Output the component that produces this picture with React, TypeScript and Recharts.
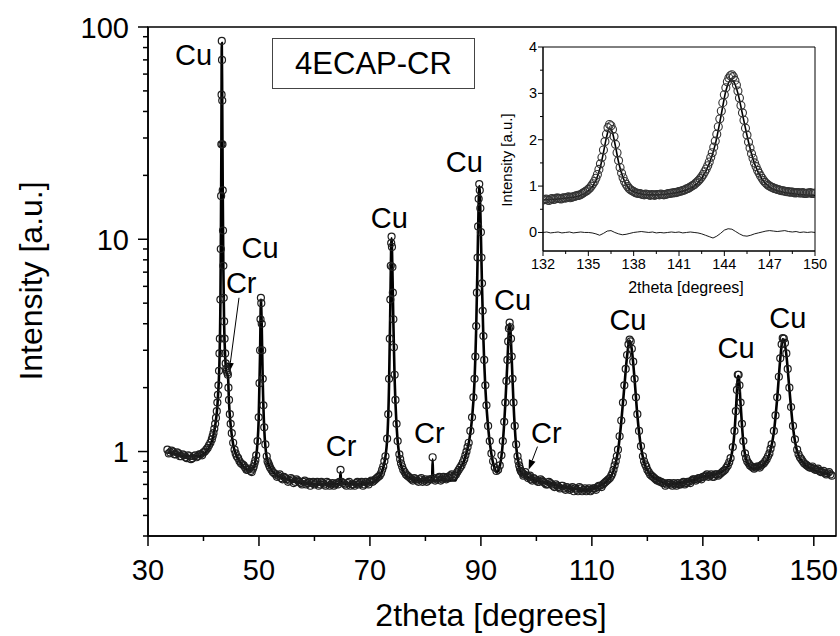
import React from 'react';
import { ComposedChart, Line, XAxis, YAxis, ReferenceArea, ReferenceDot, ReferenceLine } from 'recharts';

const FONT = '"Liberation Sans", Arial, sans-serif';

// measured pattern, [2theta, intensity]
const observedMain: [number, number][] = [
  [33.5, 1.02], [34.0, 0.99], [34.5, 1.0], [35.0, 0.97], [35.5, 0.98], [36.0, 0.95], [36.5, 0.96], [37.0, 0.93],
  [37.5, 0.95], [38.0, 0.93], [38.5, 0.96], [39.0, 0.95], [39.5, 0.97], [40.0, 0.99], [40.5, 1.02], [41.0, 1.07],
  [41.5, 1.14], [41.8, 1.22], [42.1, 1.35], [42.4, 1.55], [42.6, 1.85], [42.8, 2.4], [42.95, 3.4], [43.05, 5.2],
  [43.12, 9], [43.18, 16], [43.22, 28], [43.26, 48], [43.3, 86], [43.34, 70], [43.38, 45], [43.42, 28],
  [43.47, 17], [43.52, 11], [43.58, 7.5], [43.65, 5.3], [43.72, 4.1], [43.8, 3.4], [43.9, 2.9], [44.0, 2.6],
  [44.1, 2.45], [44.2, 2.4], [44.3, 2.35], [44.4, 2.3], [44.5, 2.0], [44.6, 1.75], [44.75, 1.5], [44.9, 1.35],
  [45.1, 1.22], [45.35, 1.1], [45.6, 1.02], [46.0, 0.95], [46.5, 0.9], [47.0, 0.87], [47.5, 0.84], [48.0, 0.82],
  [48.5, 0.81], [48.9, 0.83], [49.2, 0.88], [49.5, 0.96], [49.75, 1.12], [49.95, 1.45], [50.1, 2.1], [50.2, 3.0],
  [50.28, 4.2], [50.35, 5.3], [50.42, 5.0], [50.5, 4.0], [50.58, 3.0], [50.68, 2.2], [50.8, 1.65], [50.95, 1.3],
  [51.15, 1.08], [51.4, 0.95], [51.7, 0.88], [52.0, 0.84], [52.5, 0.8], [53.0, 0.78], [53.5, 0.77], [54.0, 0.75],
  [54.5, 0.76], [55.0, 0.74], [55.5, 0.73], [56.0, 0.74], [56.5, 0.72], [57.0, 0.73], [57.5, 0.71], [58.0, 0.72],
  [58.5, 0.7], [59.0, 0.72], [59.5, 0.71], [60.0, 0.7], [60.5, 0.72], [61.0, 0.7], [61.5, 0.71], [62.0, 0.69],
  [62.5, 0.71], [63.0, 0.7], [63.5, 0.69], [64.0, 0.71], [64.5, 0.72], [64.7, 0.82], [64.9, 0.72], [65.5, 0.7],
  [66.0, 0.71], [66.5, 0.69], [67.0, 0.7], [67.5, 0.71], [68.0, 0.7], [68.5, 0.72], [69.0, 0.7], [69.5, 0.71],
  [70.0, 0.72], [70.5, 0.72], [71.0, 0.74], [71.5, 0.76], [72.0, 0.79], [72.4, 0.85], [72.8, 0.95], [73.1, 1.15],
  [73.3, 1.5], [73.45, 2.2], [73.58, 3.4], [73.68, 5.2], [73.76, 7.5], [73.83, 9.6], [73.9, 10.3], [73.97, 9.2],
  [74.05, 7.4], [74.13, 5.6], [74.22, 4.2], [74.32, 3.1], [74.45, 2.3], [74.6, 1.75], [74.8, 1.35], [75.0, 1.12],
  [75.3, 0.97], [75.6, 0.88], [76.0, 0.82], [76.5, 0.78], [77.0, 0.76], [77.5, 0.74], [78.0, 0.75], [78.5, 0.73],
  [79.0, 0.74], [79.5, 0.72], [80.0, 0.74], [80.5, 0.73], [81.0, 0.74], [81.3, 0.94], [81.5, 0.75], [82.0, 0.74],
  [82.5, 0.76], [83.0, 0.74], [83.5, 0.75], [84.0, 0.76], [84.5, 0.77], [85.0, 0.76], [85.5, 0.78], [86.0, 0.82],
  [86.5, 0.86], [87.0, 0.92], [87.4, 1.0], [87.8, 1.1], [88.1, 1.25], [88.4, 1.45], [88.65, 1.8], [88.85, 2.2],
  [89.0, 2.8], [89.15, 3.9], [89.28, 5.6], [89.4, 8.2], [89.5, 11.5], [89.6, 15.5], [89.7, 18.2], [89.8, 17.0],
  [89.9, 14.0], [90.0, 10.8], [90.1, 8.2], [90.2, 6.2], [90.32, 4.6], [90.45, 3.5], [90.6, 2.7], [90.8, 2.05],
  [91.0, 1.65], [91.3, 1.32], [91.6, 1.12], [91.9, 0.98], [92.2, 0.9], [92.5, 0.84], [92.8, 0.81], [93.1, 0.82],
  [93.4, 0.86], [93.7, 0.96], [93.95, 1.12], [94.2, 1.38], [94.4, 1.7], [94.6, 2.15], [94.78, 2.7], [94.92, 3.3],
  [95.05, 3.8], [95.18, 4.05], [95.3, 3.85], [95.42, 3.4], [95.55, 2.8], [95.7, 2.2], [95.88, 1.7], [96.1, 1.32],
  [96.35, 1.08], [96.6, 0.95], [96.9, 0.86], [97.2, 0.81], [97.5, 0.79], [97.8, 0.78], [98.0, 0.8], [98.3, 0.77],
  [98.7, 0.76], [99.0, 0.74], [99.5, 0.75], [100.0, 0.73], [100.5, 0.72], [101.0, 0.73], [101.5, 0.71], [102.0, 0.7],
  [102.5, 0.71], [103.0, 0.69], [103.5, 0.7], [104.0, 0.68], [104.5, 0.69], [105.0, 0.67], [105.5, 0.68], [106.0, 0.66],
  [106.5, 0.68], [107.0, 0.67], [107.5, 0.65], [108.0, 0.67], [108.5, 0.66], [109.0, 0.65], [109.5, 0.67], [110.0, 0.66],
  [110.5, 0.67], [111.0, 0.68], [111.5, 0.69], [112.0, 0.7], [112.5, 0.72], [113.0, 0.74], [113.5, 0.77], [113.9, 0.82],
  [114.3, 0.9], [114.7, 1.02], [115.0, 1.18], [115.3, 1.4], [115.6, 1.7], [115.85, 2.05], [116.1, 2.45], [116.35, 2.85],
  [116.6, 3.2], [116.8, 3.37], [117.0, 3.3], [117.2, 3.05], [117.45, 2.65], [117.7, 2.2], [117.95, 1.8], [118.2, 1.5],
  [118.5, 1.25], [118.85, 1.06], [119.2, 0.95], [119.6, 0.87], [120.0, 0.82], [120.5, 0.78], [121.0, 0.76], [121.5, 0.74],
  [122.0, 0.73], [122.5, 0.72], [123.0, 0.71], [123.5, 0.7], [124.0, 0.71], [124.5, 0.69], [125.0, 0.7], [125.5, 0.71],
  [126.0, 0.7], [126.5, 0.72], [127.0, 0.71], [127.5, 0.72], [128.0, 0.73], [128.5, 0.74], [129.0, 0.74], [129.5, 0.75],
  [130.0, 0.76], [130.5, 0.77], [131.0, 0.76], [131.5, 0.78], [132.0, 0.76], [132.5, 0.78], [133.0, 0.78], [133.5, 0.8],
  [134.0, 0.82], [134.5, 0.86], [135.0, 0.93], [135.4, 1.05], [135.7, 1.25], [135.95, 1.55], [136.15, 1.95], [136.3, 2.3],
  [136.45, 2.3], [136.6, 2.05], [136.8, 1.7], [137.05, 1.35], [137.3, 1.12], [137.6, 0.98], [138.0, 0.9], [138.5, 0.86],
  [139.0, 0.84], [139.5, 0.84], [140.0, 0.85], [140.5, 0.86], [141.0, 0.88], [141.5, 0.92], [142.0, 0.98], [142.4, 1.08],
  [142.8, 1.25], [143.1, 1.48], [143.4, 1.8], [143.7, 2.25], [143.95, 2.75], [144.2, 3.2], [144.4, 3.42], [144.6, 3.4],
  [144.8, 3.25], [145.05, 2.9], [145.3, 2.45], [145.6, 2.0], [145.9, 1.62], [146.25, 1.32], [146.6, 1.14], [147.0, 1.02],
  [147.5, 0.94], [148.0, 0.9], [148.5, 0.87], [149.0, 0.85], [149.5, 0.84], [150.0, 0.83], [150.5, 0.82], [151.0, 0.81],
  [151.5, 0.8], [152.0, 0.79], [152.5, 0.79], [153.0, 0.78],
];

// the in-between steps of the same scan
const observedMainB: [number, number][] = [
  [33.75, 0.98], [34.25, 1.01], [34.75, 0.97], [35.25, 0.99], [35.75, 0.95], [36.25, 0.97], [36.75, 0.94], [37.25, 0.96],
  [37.75, 0.92], [38.25, 0.95], [38.75, 0.94], [39.25, 0.97], [39.75, 0.96], [40.25, 1.0], [40.75, 1.04], [41.25, 1.1],
  [41.65, 1.18], [41.95, 1.28], [42.25, 1.44], [42.5, 1.7], [42.7, 2.05], [42.88, 2.9],
  [45.8, 0.98], [46.25, 0.93], [46.75, 0.88], [47.25, 0.86], [47.75, 0.82], [48.25, 0.83], [48.7, 0.8], [49.05, 0.85],
  [49.35, 0.91],
  [51.55, 0.9], [51.85, 0.86], [52.25, 0.82], [52.75, 0.79], [53.25, 0.76], [53.75, 0.78], [54.25, 0.74], [54.75, 0.75],
  [55.25, 0.72], [55.75, 0.75], [56.25, 0.71], [56.75, 0.74], [57.25, 0.72], [57.75, 0.7], [58.25, 0.73], [58.75, 0.71],
  [59.25, 0.69], [59.75, 0.72], [60.25, 0.71], [60.75, 0.69], [61.25, 0.72], [61.75, 0.7], [62.25, 0.72], [62.75, 0.69],
  [63.25, 0.71], [63.75, 0.7], [64.25, 0.7], [65.2, 0.71], [65.75, 0.69], [66.25, 0.72], [66.75, 0.7], [67.25, 0.69],
  [67.75, 0.72], [68.25, 0.71], [68.75, 0.69], [69.25, 0.72], [69.75, 0.7], [70.25, 0.73], [70.75, 0.73], [71.25, 0.75],
  [71.75, 0.77], [72.2, 0.82], [72.6, 0.9],
  [75.45, 0.92], [75.8, 0.85], [76.25, 0.8], [76.75, 0.77], [77.25, 0.75], [77.75, 0.73], [78.25, 0.74], [78.75, 0.72],
  [79.25, 0.75], [79.75, 0.73], [80.25, 0.72], [80.75, 0.74], [81.75, 0.73], [82.25, 0.75], [82.75, 0.73], [83.25, 0.76],
  [83.75, 0.74], [84.25, 0.75], [84.75, 0.78], [85.25, 0.77], [85.75, 0.8], [86.25, 0.84], [86.75, 0.89], [87.2, 0.96],
  [87.6, 1.05],
  [96.75, 0.9], [97.05, 0.83], [97.35, 0.8], [97.65, 0.77], [98.5, 0.75], [98.85, 0.77], [99.25, 0.73], [99.75, 0.74],
  [100.25, 0.72], [100.75, 0.74], [101.25, 0.72], [101.75, 0.7], [102.25, 0.72], [102.75, 0.7], [103.25, 0.68], [103.75, 0.69],
  [104.25, 0.67], [104.75, 0.69], [105.25, 0.66], [105.75, 0.67], [106.25, 0.67], [106.75, 0.65], [107.25, 0.66], [107.75, 0.68],
  [108.25, 0.65], [108.75, 0.67], [109.25, 0.66], [109.75, 0.65], [110.25, 0.67], [110.75, 0.66], [111.25, 0.69], [111.75, 0.68],
  [112.25, 0.71], [112.75, 0.73], [113.25, 0.75], [113.7, 0.79], [114.1, 0.86], [114.5, 0.95],
  [119.4, 0.9], [119.8, 0.85], [120.25, 0.8], [120.75, 0.77], [121.25, 0.75], [121.75, 0.73], [122.25, 0.72], [122.75, 0.71],
  [123.25, 0.69], [123.75, 0.71], [124.25, 0.7], [124.75, 0.71], [125.25, 0.69], [125.75, 0.7], [126.25, 0.71], [126.75, 0.7],
  [127.25, 0.72], [127.75, 0.71], [128.25, 0.74], [128.75, 0.73], [129.25, 0.75], [129.75, 0.74], [130.25, 0.76], [130.75, 0.78],
  [131.25, 0.77], [131.75, 0.76], [132.25, 0.78], [132.75, 0.77], [133.25, 0.79], [133.75, 0.81], [134.25, 0.84], [134.75, 0.89],
  [137.8, 0.93], [138.25, 0.88], [138.75, 0.85], [139.25, 0.83], [139.75, 0.85], [140.25, 0.84], [140.75, 0.87], [141.25, 0.9],
  [141.75, 0.95], [142.2, 1.03],
  [147.25, 0.97], [147.75, 0.92], [148.25, 0.88], [148.75, 0.86], [149.25, 0.84], [149.75, 0.85], [150.25, 0.82], [150.75, 0.83],
  [151.25, 0.8], [151.75, 0.81], [152.25, 0.78], [152.75, 0.8], [153.25, 0.77],
];

// refined profile
const fittedMain: [number, number][] = [
  [33.5, 0.99], [35, 0.97], [37, 0.95], [39, 0.95], [40.5, 1.0], [41.5, 1.12], [42.1, 1.32], [42.6, 1.8],
  [42.9, 2.8], [43.05, 5], [43.15, 12], [43.22, 26], [43.3, 84], [43.38, 44], [43.47, 17], [43.58, 7.4],
  [43.72, 4.0], [43.9, 2.85], [44.1, 2.4], [44.3, 2.3], [44.42, 2.25], [44.6, 1.7], [44.9, 1.33], [45.35, 1.08],
  [46, 0.95], [47, 0.86], [48, 0.82], [48.9, 0.83], [49.5, 0.95], [49.95, 1.42], [50.2, 2.9], [50.35, 5.2],
  [50.5, 3.9], [50.68, 2.15], [50.95, 1.28], [51.4, 0.94], [52, 0.84], [53, 0.78], [55, 0.74], [58, 0.71],
  [61, 0.7], [64, 0.7], [64.6, 0.71], [64.7, 0.8], [64.8, 0.71], [67, 0.7], [70, 0.71], [71.5, 0.75],
  [72.4, 0.84], [73.1, 1.13], [73.45, 2.1], [73.68, 5.0], [73.83, 9.4], [73.9, 10.1], [74.05, 7.2], [74.22, 4.1],
  [74.45, 2.2], [74.8, 1.32], [75.3, 0.95], [76, 0.81], [77, 0.75], [79, 0.73], [81.2, 0.73], [81.3, 0.92],
  [81.4, 0.73], [85.4, 0.73], [86, 0.81], [87, 0.91], [87.8, 1.09], [88.4, 1.43], [88.85, 2.15], [89.15, 3.8],
  [89.4, 8.0], [89.6, 15.2], [89.7, 17.8], [89.8, 16.6], [90.0, 10.5], [90.2, 6.0], [90.45, 3.4], [90.8, 2.0],
  [91.3, 1.3], [91.9, 0.97], [92.5, 0.83], [92.8, 0.8], [93.1, 0.81], [93.4, 0.85], [93.95, 1.1], [94.4, 1.68],
  [94.78, 2.65], [95.05, 3.75], [95.18, 4.0], [95.3, 3.8], [95.55, 2.75], [95.88, 1.68], [96.35, 1.06], [96.9, 0.85],
  [97.5, 0.78], [97.9, 0.77], [98.0, 0.79], [98.1, 0.77], [100, 0.73], [103, 0.7], [106, 0.67], [109, 0.66],
  [111, 0.68], [113, 0.74], [113.9, 0.81], [114.7, 1.0], [115.3, 1.38], [115.85, 2.02], [116.35, 2.82], [116.8, 3.33],
  [117.2, 3.02], [117.7, 2.18], [118.2, 1.48], [118.85, 1.05], [119.6, 0.86], [120.5, 0.78], [122, 0.73], [124, 0.7],
  [126, 0.71], [128, 0.73], [130, 0.76], [132, 0.78], [134, 0.82], [135, 0.92], [135.7, 1.23], [136.15, 1.92],
  [136.3, 2.27], [136.45, 2.27], [136.8, 1.68], [137.3, 1.1], [138, 0.89], [139, 0.83], [140, 0.84], [141, 0.87],
  [142, 0.97], [142.8, 1.23], [143.4, 1.78], [143.95, 2.72], [144.4, 3.38], [144.6, 3.36], [145.05, 2.86], [145.6, 1.97],
  [146.25, 1.3], [147, 1.0], [148, 0.89], [149.5, 0.83], [151, 0.8], [153, 0.78],
];

const observedInset: [number, number][] = [
  [132.0, 0.7], [132.2, 0.72], [132.4, 0.69], [132.6, 0.73], [132.8, 0.72], [133.0, 0.74], [133.2, 0.72], [133.4, 0.75],
  [133.6, 0.76], [133.8, 0.75], [134.0, 0.77], [134.2, 0.79], [134.4, 0.8], [134.6, 0.84], [134.8, 0.88], [135.0, 0.93],
  [135.2, 1.0], [135.4, 1.1], [135.6, 1.25], [135.8, 1.48], [136.0, 1.78], [136.2, 2.12], [136.4, 2.33], [136.6, 2.22],
  [136.8, 1.9], [137.0, 1.55], [137.2, 1.28], [137.4, 1.1], [137.6, 0.99], [137.8, 0.92], [138.0, 0.88], [138.2, 0.85],
  [138.4, 0.84], [138.6, 0.82], [138.8, 0.83], [139.0, 0.81], [139.2, 0.82], [139.4, 0.8], [139.6, 0.82], [139.8, 0.83],
  [140.0, 0.81], [140.2, 0.83], [140.4, 0.84], [140.6, 0.85], [140.8, 0.86], [141.0, 0.88], [141.2, 0.9], [141.4, 0.92],
  [141.6, 0.95], [141.8, 0.99], [142.0, 1.03], [142.2, 1.09], [142.4, 1.16], [142.6, 1.25], [142.8, 1.37], [143.0, 1.52],
  [143.2, 1.72], [143.4, 1.97], [143.6, 2.28], [143.8, 2.62], [144.0, 2.97], [144.2, 3.25], [144.4, 3.38], [144.6, 3.36],
  [144.8, 3.18], [145.0, 2.9], [145.2, 2.58], [145.4, 2.25], [145.6, 1.95], [145.8, 1.7], [146.0, 1.5], [146.2, 1.34],
  [146.4, 1.22], [146.6, 1.12], [146.8, 1.05], [147.0, 1.0], [147.2, 0.97], [147.4, 0.94], [147.6, 0.92], [147.8, 0.9],
  [148.0, 0.89], [148.2, 0.88], [148.4, 0.87], [148.6, 0.86], [148.8, 0.86], [149.0, 0.85], [149.2, 0.86], [149.4, 0.84],
  [149.6, 0.85], [149.8, 0.84], [150.0, 0.85],
];

const observedInsetB: [number, number][] = [
  [132.1, 0.71], [132.3, 0.7], [132.5, 0.72], [132.7, 0.71], [132.9, 0.74], [133.1, 0.73], [133.3, 0.74], [133.5, 0.74],
  [133.7, 0.77], [133.9, 0.76], [134.1, 0.78], [134.3, 0.8], [134.5, 0.82], [134.7, 0.86], [134.9, 0.9], [135.1, 0.96],
  [135.3, 1.05], [135.5, 1.17], [135.7, 1.36], [135.9, 1.62], [136.1, 1.96], [136.3, 2.26], [136.5, 2.3], [136.7, 2.07],
  [136.9, 1.72], [137.1, 1.4], [137.3, 1.18], [137.5, 1.04], [137.7, 0.95], [137.9, 0.9], [138.1, 0.86], [138.3, 0.84],
  [138.5, 0.83], [138.7, 0.81], [138.9, 0.82], [139.1, 0.8], [139.3, 0.81], [139.5, 0.82], [139.7, 0.81], [139.9, 0.82],
  [140.1, 0.82], [140.3, 0.84], [140.5, 0.85], [140.7, 0.86], [140.9, 0.87], [141.1, 0.89], [141.3, 0.91], [141.5, 0.94],
  [141.7, 0.97], [141.9, 1.01], [142.1, 1.06], [142.3, 1.12], [142.5, 1.2], [142.7, 1.31], [142.9, 1.44], [143.1, 1.62],
  [143.3, 1.84], [143.5, 2.12], [143.7, 2.45], [143.9, 2.8], [144.1, 3.12], [144.3, 3.33], [144.5, 3.4], [144.7, 3.28],
  [144.9, 3.05], [145.1, 2.74], [145.3, 2.42], [145.5, 2.1], [145.7, 1.82], [145.9, 1.6], [146.1, 1.42], [146.3, 1.28],
  [146.5, 1.17], [146.7, 1.08], [146.9, 1.02], [147.1, 0.98], [147.3, 0.95], [147.5, 0.93], [147.7, 0.91], [147.9, 0.9],
  [148.1, 0.88], [148.3, 0.87], [148.5, 0.87], [148.7, 0.85], [148.9, 0.86], [149.1, 0.85], [149.3, 0.84], [149.5, 0.85],
  [149.7, 0.86], [149.9, 0.84],
];

const fittedInset: [number, number][] = [
  [132, 0.7], [132.5, 0.71], [133, 0.72], [133.5, 0.74], [134, 0.76], [134.5, 0.8], [135, 0.9], [135.5, 1.12],
  [135.8, 1.42], [136.0, 1.72], [136.2, 2.05], [136.4, 2.25], [136.6, 2.15], [136.8, 1.85], [137.0, 1.52], [137.3, 1.18],
  [137.6, 0.98], [138, 0.88], [138.5, 0.83], [139, 0.81], [139.5, 0.81], [140, 0.82], [140.5, 0.84], [141, 0.87],
  [141.5, 0.92], [142, 1.0], [142.5, 1.17], [143, 1.48], [143.4, 1.9], [143.8, 2.55], [144.1, 3.05], [144.4, 3.28],
  [144.6, 3.26], [144.9, 3.0], [145.2, 2.55], [145.6, 1.95], [146, 1.48], [146.5, 1.15], [147, 0.98], [147.5, 0.9],
  [148, 0.86], [149, 0.82], [150, 0.8],
];

const differenceInset: [number, number][] = [
  [132.0, 0.0], [132.25, 0.01], [132.5, -0.01], [132.75, 0.0], [133.0, 0.01], [133.25, -0.01], [133.5, 0.0], [133.75, 0.01],
  [134.0, -0.01], [134.25, 0.0], [134.5, 0.01], [134.75, 0.0], [135.0, 0.0], [135.25, -0.01], [135.5, -0.03], [135.75, -0.06],
  [136.0, -0.02], [136.25, 0.03], [136.5, 0.04], [136.75, 0.0], [137.0, -0.03], [137.25, -0.05], [137.5, -0.04], [137.75, -0.02],
  [138.0, 0.0], [138.25, 0.01], [138.5, 0.02], [138.75, 0.01], [139.0, 0.0], [139.25, 0.01], [139.5, -0.01], [139.75, 0.0],
  [140.0, -0.01], [140.25, 0.0], [140.5, 0.01], [140.75, 0.0], [141.0, 0.01], [141.25, -0.01], [141.5, 0.0], [141.75, 0.01],
  [142.0, 0.0], [142.25, -0.01], [142.5, -0.03], [142.75, -0.06], [143.0, -0.09], [143.25, -0.12], [143.5, -0.08], [143.75, -0.02],
  [144.0, 0.05], [144.25, 0.08], [144.5, 0.07], [144.75, 0.02], [145.0, -0.03], [145.25, -0.07], [145.5, -0.08], [145.75, -0.06],
  [146.0, -0.03], [146.25, -0.01], [146.5, 0.01], [146.75, 0.03], [147.0, 0.04], [147.25, 0.03], [147.5, 0.02], [147.75, 0.03],
  [148.0, 0.04], [148.25, 0.02], [148.5, 0.01], [148.75, 0.02], [149.0, 0.0], [149.25, 0.01], [149.5, 0.0], [149.75, 0.01],
  [150.0, 0.0],
];

const mainXTicks = [30, 40, 50, 60, 70, 80, 90, 100, 110, 120, 130, 140, 150];
const mainXLabels = [30, 50, 70, 90, 110, 130, 150];
const mainYTicks = [0.4, 0.5, 0.6, 0.7, 0.8, 0.9, 1, 2, 3, 4, 5, 6, 7, 8, 9, 10, 20, 30, 40, 50, 60, 70, 80, 90, 100];
const mainYLabels = [1, 10, 100];
const insetXTicks = [132, 133.5, 135, 136.5, 138, 139.5, 141, 142.5, 144, 145.5, 147, 148.5, 150];
const insetXLabels = [132, 135, 138, 141, 144, 147, 150];
const insetYTicks = [0, 0.5, 1, 1.5, 2, 2.5, 3, 3.5, 4];
const insetYLabels = [0, 1, 2, 3, 4];

const peakLabels = [
  { text: 'Cu', x: 38.2, y: 66 },
  { text: 'Cr', x: 46.8, y: 5.6 },
  { text: 'Cu', x: 50.2, y: 8.2 },
  { text: 'Cr', x: 64.8, y: 0.95 },
  { text: 'Cu', x: 73.5, y: 11.3 },
  { text: 'Cr', x: 80.7, y: 1.1 },
  { text: 'Cu', x: 87.0, y: 20.8 },
  { text: 'Cu', x: 95.7, y: 4.66 },
  { text: 'Cr', x: 101.8, y: 1.1 },
  { text: 'Cu', x: 116.5, y: 3.75 },
  { text: 'Cu', x: 136.0, y: 2.77 },
  { text: 'Cu', x: 145.3, y: 3.83 },
];

const arrows = [
  { x1: 46.4, y1: 5.3, x2: 44.6, y2: 2.35 },
  { x1: 100.2, y1: 1.055, x2: 98.6, y2: 0.82 },
];

const rows = (pts: [number, number][]) => pts.map(([x, y]) => ({ x, y }));

const MainXTick = ({ x, y, payload }: any) => {
  const major = mainXLabels.includes(payload.value);
  return (
    <g>
      <line x1={x} y1={y} x2={x} y2={y + (major ? 10 : 5)} stroke="#000" strokeWidth={1.5} />
      {major && (
        <text x={x} y={y + 44} textAnchor="middle" fontSize={29} fontFamily={FONT} fill="#000">
          {payload.value}
        </text>
      )}
    </g>
  );
};

const MainYTick = ({ x, y, payload }: any) => {
  const major = mainYLabels.includes(payload.value);
  return (
    <g>
      <line x1={x} y1={y} x2={x - (major ? 10 : 5)} y2={y} stroke="#000" strokeWidth={1.5} />
      {major && (
        <text x={x - 19} y={y + 10.5} textAnchor="end" fontSize={29} fontFamily={FONT} fill="#000">
          {payload.value}
        </text>
      )}
    </g>
  );
};

const InsetXTick = ({ x, y, payload }: any) => {
  const major = insetXLabels.includes(payload.value);
  return (
    <g>
      <line x1={x} y1={y} x2={x} y2={y + (major ? 5 : 3)} stroke="#000" strokeWidth={1} />
      {major && (
        <text x={x} y={y + 18} textAnchor="middle" fontSize={14.5} fontFamily={FONT} fill="#000">
          {payload.value}
        </text>
      )}
    </g>
  );
};

const InsetYTick = ({ x, y, payload }: any) => {
  const major = insetYLabels.includes(payload.value);
  return (
    <g>
      <line x1={x} y1={y} x2={x - (major ? 5 : 3)} y2={y} stroke="#000" strokeWidth={1} />
      {major && (
        <text x={x - 6} y={y + 5} textAnchor="end" fontSize={14.5} fontFamily={FONT} fill="#000">
          {payload.value}
        </text>
      )}
    </g>
  );
};

const ArrowShape = (p: any) => {
  const { x1, y1, x2, y2 } = p;
  const ang = Math.atan2(y2 - y1, x2 - x1);
  const len = 10;
  const half = 3.5;
  const bx = x2 - len * Math.cos(ang);
  const by = y2 - len * Math.sin(ang);
  const pts = `${x2},${y2} ${bx + half * Math.sin(ang)},${by - half * Math.cos(ang)} ${bx - half * Math.sin(ang)},${by + half * Math.cos(ang)}`;
  return (
    <g>
      <line x1={x1} y1={y1} x2={bx} y2={by} stroke="#000" strokeWidth={1} />
      <polygon points={pts} fill="#000" />
    </g>
  );
};

const mainDot = { r: 3.5, stroke: '#1e1e1e', strokeWidth: 1.2, fill: 'none' };
const insetDot = { r: 4, stroke: '#333', strokeWidth: 1.1, fill: 'none' };

export default function App() {
  return (
    <div style={{ position: 'absolute', left: 0, top: 0, width: 840, height: 636, background: '#fff', fontFamily: FONT }}>
      <ComposedChart width={840} height={636} margin={{ top: 27, right: 4, bottom: 0, left: 0 }}>
        <XAxis
          dataKey="x"
          type="number"
          domain={[30, 154]}
          ticks={mainXTicks}
          interval={0}
          allowDataOverflow
          height={100}
          tickSize={0}
          tickMargin={0}
          tickLine={false}
          tick={<MainXTick />}
          axisLine={{ stroke: '#000', strokeWidth: 1.5 }}
        />
        <YAxis
          type="number"
          scale="log"
          domain={[0.4, 100]}
          ticks={mainYTicks}
          interval={0}
          allowDataOverflow
          width={148}
          tickSize={0}
          tickMargin={0}
          tickLine={false}
          tick={<MainYTick />}
          axisLine={{ stroke: '#000', strokeWidth: 1.5 }}
        />
        <ReferenceArea x1={30} x2={154} y1={0.4} y2={100} fill="none" stroke="#000" strokeWidth={1.5} />
        <Line data={rows(observedMain)} dataKey="y" stroke="none" dot={mainDot} activeDot={false} isAnimationActive={false} />
        <Line data={rows(observedMainB)} dataKey="y" stroke="none" dot={mainDot} activeDot={false} isAnimationActive={false} />
        <Line
          data={rows(fittedMain)}
          dataKey="y"
          type="monotone"
          stroke="#000"
          strokeWidth={2.6}
          dot={false}
          activeDot={false}
          isAnimationActive={false}
        />
        {peakLabels.map((l, i) => (
          <ReferenceDot
            key={i}
            x={l.x}
            y={l.y}
            r={0}
            shape={(p: any) => (
              <text x={p.cx} y={p.cy} textAnchor="middle" fontSize={29} fontFamily={FONT} fill="#000">
                {l.text}
              </text>
            )}
          />
        ))}
        {arrows.map((a, i) => (
          <ReferenceLine
            key={i}
            segment={[{ x: a.x1, y: a.y1 }, { x: a.x2, y: a.y2 }]}
            shape={(p: any) => <ArrowShape {...p} />}
          />
        ))}
      </ComposedChart>

      <div
        style={{
          position: 'absolute',
          left: 272,
          top: 38,
          width: 203,
          height: 51,
          boxSizing: 'border-box',
          border: '1px solid #444',
          background: '#fff',
          fontSize: 31,
          lineHeight: '49px',
          textAlign: 'center',
          color: '#000',
        }}
      >
        4ECAP-CR
      </div>

      <div style={{ position: 'absolute', left: 490, top: 40 }}>
        <ComposedChart width={346} height={262} margin={{ top: 7, right: 21, bottom: 0, left: 0 }}>
          <XAxis
            dataKey="x"
            type="number"
            domain={[132, 150]}
            ticks={insetXTicks}
            interval={0}
            allowDataOverflow
            height={51}
            tickSize={0}
            tickMargin={0}
            tickLine={false}
            tick={<InsetXTick />}
            axisLine={{ stroke: '#000', strokeWidth: 1 }}
          />
          <YAxis
            type="number"
            domain={[-0.4, 4]}
            ticks={insetYTicks}
            interval={0}
            allowDataOverflow
            width={53}
            tickSize={0}
            tickMargin={0}
            tickLine={false}
            tick={<InsetYTick />}
            axisLine={{ stroke: '#000', strokeWidth: 1 }}
          />
          <ReferenceArea x1={132} x2={150} y1={-0.4} y2={4} fill="none" stroke="#000" strokeWidth={1} />
          <Line data={rows(observedInset)} dataKey="y" stroke="none" dot={insetDot} activeDot={false} isAnimationActive={false} />
          <Line data={rows(observedInsetB)} dataKey="y" stroke="none" dot={insetDot} activeDot={false} isAnimationActive={false} />
          <Line
            data={rows(fittedInset)}
            dataKey="y"
            type="monotone"
            stroke="#000"
            strokeWidth={1.6}
            dot={false}
            activeDot={false}
            isAnimationActive={false}
          />
          <Line
            data={rows(differenceInset)}
            dataKey="y"
            type="linear"
            stroke="#000"
            strokeWidth={0.9}
            dot={false}
            activeDot={false}
            isAnimationActive={false}
          />
        </ComposedChart>
      </div>

      <svg width={840} height={636} style={{ position: 'absolute', left: 0, top: 0, pointerEvents: 'none' }}>
        <text x={42} y={281} transform="rotate(-90 42 281)" textAnchor="middle" fontSize={32} fontFamily={FONT} fill="#000">
          Intensity [a.u.]
        </text>
        <text x={491} y={626} textAnchor="middle" fontSize={32} fontFamily={FONT} fill="#000">
          2theta [degrees]
        </text>
        <text x={512} y={160} transform="rotate(-90 512 160)" textAnchor="middle" fontSize={15} fontFamily={FONT} fill="#000">
          Intensity [a.u.]
        </text>
        <text x={686} y={293} textAnchor="middle" fontSize={16} fontFamily={FONT} fill="#000">
          2theta [degrees]
        </text>
      </svg>
    </div>
  );
}
